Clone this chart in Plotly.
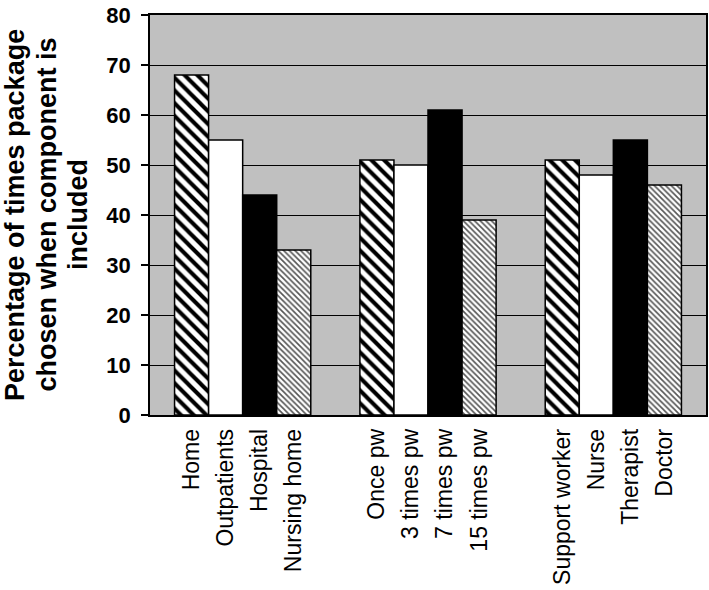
import plotly.graph_objects as go

groups = ["Setting", "Frequency", "Staff"]
series_labels = [
    ["Home", "Once pw", "Support worker"],
    ["Outpatients", "3 times pw", "Nurse"],
    ["Hospital", "7 times pw", "Therapist"],
    ["Nursing home", "15 times pw", "Doctor"],
]
series_values = [
    [68, 51, 51],
    [55, 50, 48],
    [44, 61, 55],
    [33, 39, 46],
]
y_ticks = [0, 10, 20, 30, 40, 50, 60, 70, 80]
y_title_lines = ["Percentage of times package", "chosen when component is", "included"]

styles = [
    dict(color="white", pattern=dict(shape="\\", fgcolor="black", bgcolor="white", size=9, solidity=0.45, fillmode="replace")),
    dict(color="white"),
    dict(color="black"),
    dict(color="white", pattern=dict(shape="\\", fgcolor="#555555", bgcolor="white", size=4, solidity=0.4, fillmode="replace")),
]

W, H = 709, 590
ML, MR, MT, MB = 150, 3, 15, 175
BARGAP = 0.265
n_series = len(series_values)
bw = (1 - BARGAP) / n_series

fig = go.Figure()
xs = list(range(len(groups)))
for j, vals in enumerate(series_values):
    fig.add_trace(go.Bar(
        x=xs, y=vals,
        marker=dict(line=dict(color="black", width=1.5), **styles[j]),
        showlegend=False,
    ))

tickvals, ticktext = [], []
for g in xs:
    for j in range(n_series):
        tickvals.append(g + (j - (n_series - 1) / 2) * bw)
        ticktext.append(series_labels[j][g])

font = "Arial, Liberation Sans, sans-serif"
fig.update_layout(
    width=W, height=H,
    margin=dict(l=ML, r=MR, t=MT, b=MB),
    paper_bgcolor="white",
    plot_bgcolor="#c0c0c0",
    barmode="group", bargap=BARGAP, bargroupgap=0,
    font=dict(family=font, color="black"),
)
fig.update_xaxes(
    range=[-0.5, 2.5], automargin=False,
    tickmode="array", tickvals=tickvals, ticktext=ticktext,
    tickangle=-90, tickfont=dict(size=23, family=font),
    ticks="outside", ticklen=3, tickcolor="rgba(0,0,0,0)",
    showline=True, linecolor="black", linewidth=1.5, mirror=True,
    showgrid=False, zeroline=False,
)
fig.update_yaxes(
    range=[0, 80], tickvals=y_ticks, automargin=False,
    tickfont=dict(size=22, family=font, weight="bold"),
    ticks="outside", ticklen=7, tickcolor="black", tickwidth=1.5,
    ticklabelstandoff=6,
    showline=True, linecolor="black", linewidth=1.5, mirror=True,
    showgrid=True, gridcolor="black", gridwidth=1,
    zeroline=False,
)

# y-axis title, one annotation per line for tighter line spacing
plot_w = W - ML - MR
line_centers_px = [15, 46.5, 78]
for txt, cx in zip(y_title_lines, line_centers_px):
    fig.add_annotation(
        text=txt, textangle=-90, showarrow=False,
        xref="paper", yref="paper", x=(cx - ML) / plot_w, y=0.5,
        xanchor="center", yanchor="middle",
        font=dict(size=27, family=font, weight="bold", color="black"),
    )

fig.write_html("out.html", config={"displayModeBar": False},
               post_script="document.body.style.margin='0';")
